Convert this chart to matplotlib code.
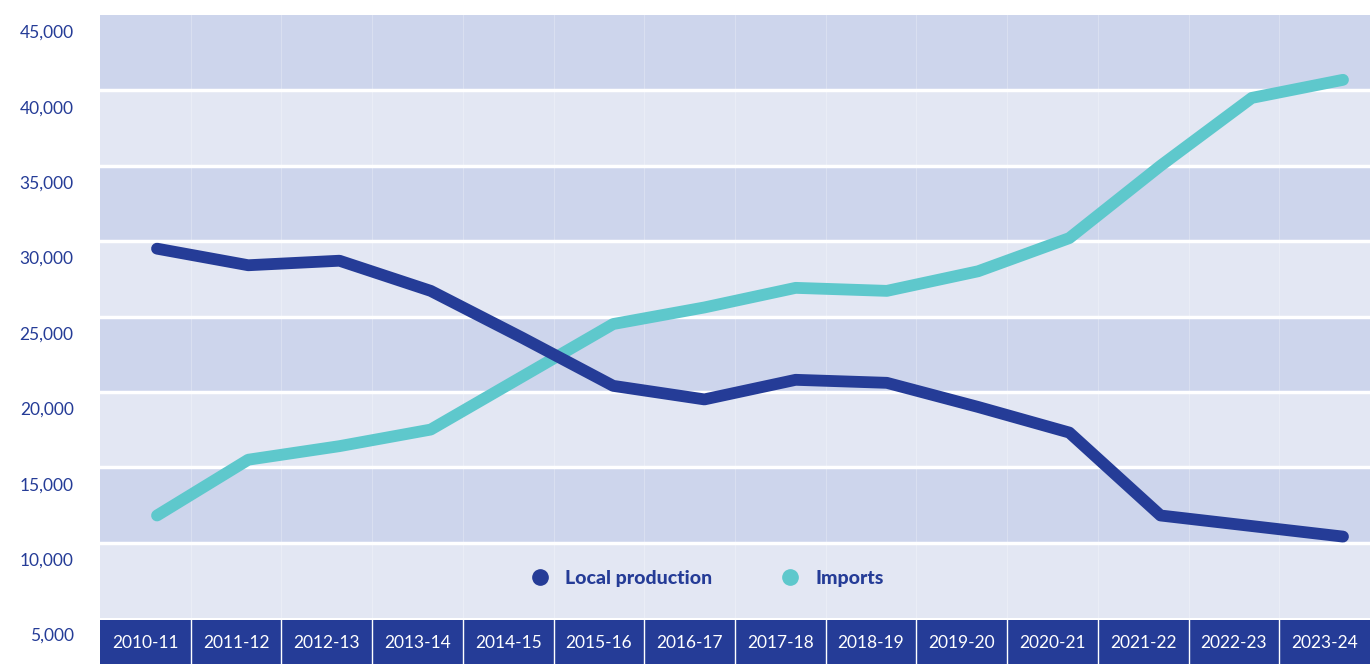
import matplotlib
matplotlib.use("Agg")
import matplotlib.pyplot as plt
from matplotlib.lines import Line2D
from matplotlib.transforms import ScaledTranslation, blended_transform_factory

years = ["2010-11", "2011-12", "2012-13", "2013-14", "2014-15", "2015-16", "2016-17",
         "2017-18", "2018-19", "2019-20", "2020-21", "2021-22", "2022-23", "2023-24"]
local_production = [29500, 28400, 28700, 26700, 23600, 20400, 19500,
                    20800, 20600, 19000, 17300, 11800, 11100, 10400]
imports = [11800, 15500, 16400, 17500, 21000, 24500, 25600,
           26900, 26700, 28000, 30200, 35000, 39500, 40700]
y_ticks = [5000, 10000, 15000, 20000, 25000, 30000, 35000, 40000, 45000]

dark_blue = "#253c97"
teal = "#5ec8cc"
band_dark = "#cdd5ec"
band_light = "#e3e7f3"

plt.rcParams["font.family"] = ["Lato", "DejaVu Sans"]

fig = plt.figure(figsize=(13.7, 6.64), dpi=100)
ax = fig.add_axes([100 / 1370, 46 / 664, 1270 / 1370, 603 / 664])
ax_cells = fig.add_axes([100 / 1370, 0, 1270 / 1370, 44 / 664])

# alternating bands with white separators (lowest band is the light one)
for i in range(len(y_ticks) - 1):
    ax.axhspan(y_ticks[i], y_ticks[i + 1], color=band_light if i % 2 == 0 else band_dark, lw=0, zorder=0)
for y in y_ticks[1:-1]:
    ax.axhline(y, color="white", lw=2.5, zorder=1)

# very faint vertical lines at category boundaries
vtrans = blended_transform_factory(ax_cells.transData, ax.transAxes)
for i in range(len(years) - 1):
    ax.plot([i + 0.5, i + 0.5], [0, 1], transform=vtrans, color="white", alpha=0.25, lw=0.8, zorder=0.5)

x = list(range(len(years)))
ax.plot(x, local_production, color=dark_blue, lw=8.5, solid_capstyle="round", zorder=3)
ax.plot(x, imports, color=teal, lw=8.5, solid_capstyle="round", zorder=2)

ax.set_xlim(-0.625, 13.296)
ax.set_ylim(5000, 45000)
ax.set_xticks([])
ax.set_yticks(y_ticks)
ax.set_yticklabels([f"{v:,}" for v in y_ticks], color=dark_blue, fontsize=12.5)
ax.tick_params(axis="y", length=0, pad=19)
for lab in ax.get_yticklabels():
    lab.set_transform(lab.get_transform() + ScaledTranslation(0, -16.5 / 100, fig.dpi_scale_trans))
for s in ax.spines.values():
    s.set_visible(False)

handles = [Line2D([], [], marker="o", ls="none", color=dark_blue, markersize=11),
           Line2D([], [], marker="o", ls="none", color=teal, markersize=11)]
leg = ax.legend(handles, ["Local production", "Imports"], loc="center", bbox_to_anchor=(0.474, 0.066),
                ncol=2, frameon=False, columnspacing=3.0, handletextpad=0.3,
                prop={"weight": "black", "size": 14})
for t in leg.get_texts():
    t.set_color(dark_blue)

# category cells
ax_cells.set_facecolor(dark_blue)
ax_cells.set_xlim(-0.5, len(years) - 0.5)
ax_cells.set_ylim(0, 1)
for i in range(len(years) - 1):
    ax_cells.axvline(i + 0.5, color="white", lw=1)
for i, yr in enumerate(years):
    ax_cells.text(i, 0.48, yr, color="white", ha="center", va="center", fontsize=12.5)
ax_cells.set_xticks([])
ax_cells.set_yticks([])
for s in ax_cells.spines.values():
    s.set_visible(False)

fig.savefig("out.png", dpi=100)
